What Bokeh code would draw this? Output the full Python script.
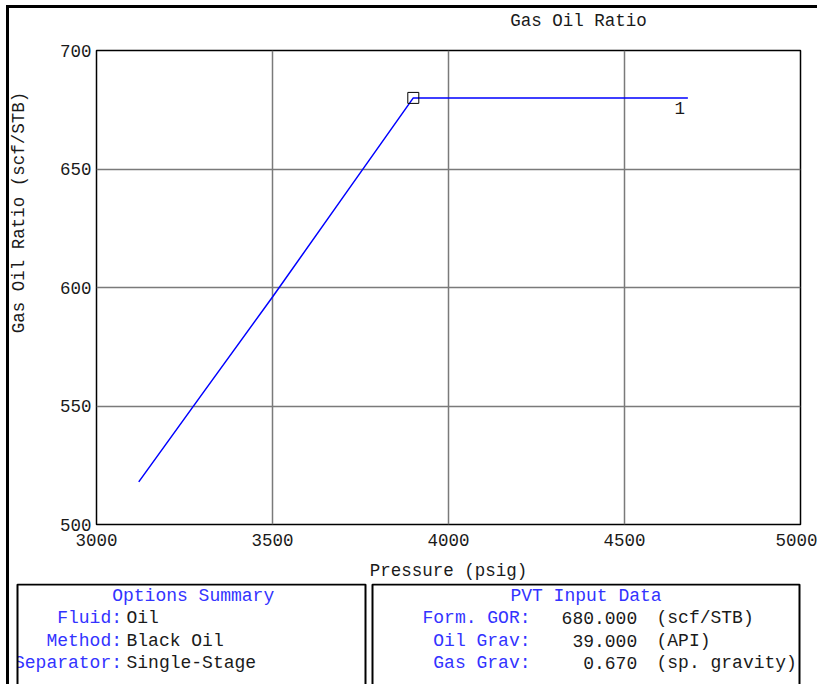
import numpy as np
from bokeh.plotting import figure
from bokeh.models import Range1d, Label, Div
from bokeh.layouts import column, row
from bokeh.embed import file_html
from bokeh.resources import INLINE
from bokeh.core.properties import value

# ---- chart data ----
pressure = [3120, 3300, 3500, 3700, 3900, 4680]
gor = [518, 555, 596, 638, 680, 680]
bubble_p = [3900]
bubble_gor = [680]
series_name = "1"
x_ticks = [3000, 3500, 4000, 4500, 5000]
y_ticks = [500, 550, 600, 650, 700]
chart_title = "Gas Oil Ratio"
x_label = "Pressure (psig)"
y_label = "Gas Oil Ratio (scf/STB)"

# ---- summary tables ----
options_title = "Options Summary"
options_keys = ["Fluid:", "Method:", "Separator:"]
options_vals = ["Oil", "Black Oil", "Single-Stage"]
pvt_title = "PVT Input Data"
pvt_keys = ["Form. GOR:", "Oil Grav:", "Gas Grav:"]
pvt_vals = ["680.000", "39.000", "0.670"]
pvt_units = ["(scf/STB)", "(API)", "(sp. gravity)"]

FONT = "Liberation Mono"
FS = "17.5px"
TFS = "18px"
BLUE = "#3333ff"
TXT = "#1a1a1a"


def no_align(fig):
    if "frame_align" in fig.properties():
        fig.frame_align = False


def blank_fig(w, h, y_down=False):
    f = figure(width=w, height=h, x_range=Range1d(0, w),
               y_range=Range1d(h, 0) if y_down else Range1d(0, h),
               x_axis_type=None, y_axis_type=None,
               output_backend="svg", toolbar_location=None, min_border=0)
    no_align(f)
    f.grid.visible = False
    f.outline_line_color = None
    return f


# ---- title strip ----
tf = blank_fig(808, 22)
tf.text(x=[569], y=[10], text=[chart_title], text_align="center",
        text_baseline="middle", text_font=value(FONT), text_font_size=FS,
        text_color=TXT)

# ---- y-axis label strip ----
yl = blank_fig(30, 553)
yl.text(x=[9], y=[371], text=[y_label], angle=np.pi / 2,
        text_align="center", text_baseline="middle", text_font=value(FONT),
        text_font_size=FS, text_color=TXT)

# ---- main chart ----
p = figure(width=778, height=553,
           x_range=Range1d(3000, 5000), y_range=Range1d(500, 700),
           output_backend="svg", toolbar_location=None,
           min_border_left=57, min_border_right=17,
           min_border_top=20, min_border_bottom=59)
no_align(p)

for ax in (p.xaxis, p.yaxis):
    ax.major_tick_line_color = None
    ax.minor_tick_line_color = None
    ax.major_tick_out = 0
    ax.major_tick_in = 0
    ax.axis_line_color = None
    ax.major_label_text_font = FONT
    ax.major_label_text_font_size = FS
    ax.major_label_text_color = TXT
p.xaxis.ticker = x_ticks
p.yaxis.ticker = y_ticks
p.xaxis.major_label_standoff = 9
p.yaxis.major_label_standoff = 5
p.xaxis.axis_label = x_label
p.xaxis.axis_label_text_font = FONT
p.xaxis.axis_label_text_font_size = FS
p.xaxis.axis_label_text_font_style = "normal"
p.xaxis.axis_label_text_color = TXT
p.xaxis.axis_label_standoff = 12

p.xgrid.ticker = x_ticks
p.ygrid.ticker = y_ticks
p.grid.grid_line_color = "#7a7a7a"
p.grid.grid_line_width = 1.5
p.outline_line_color = "black"
p.outline_line_width = 1.5

p.line(pressure, gor, line_color="#0000ff", line_width=1.5)
p.scatter(bubble_p, bubble_gor, marker="square", size=11,
          fill_color=None, line_color="black", line_width=1)

p.add_layout(Label(x=pressure[-1], y=gor[-1], text=series_name,
                   x_offset=-8, y_offset=-10, text_align="center",
                   text_baseline="middle", text_font=FONT,
                   text_font_size=FS, text_color=TXT))

# ---- summary panel ----
q = blank_fig(808, 101, y_down=True)

row_y = [34.5, 57.7, 79.3]
q.text(x=[183.7, 576.5], y=[12.7, 12.7], text=[options_title, pvt_title],
       text_align="center", text_baseline="middle",
       text_font=value(FONT), text_font_size=TFS, text_color=BLUE)
q.text(x=[112.5] * 3, y=row_y, text=options_keys, text_align="right",
       text_baseline="middle", text_font=value(FONT), text_font_size=TFS,
       text_color=BLUE)
q.text(x=[117] * 3, y=row_y, text=options_vals, text_align="left",
       text_baseline="middle", text_font=value(FONT), text_font_size=TFS,
       text_color=TXT)
q.text(x=[521] * 3, y=row_y, text=pvt_keys, text_align="right",
       text_baseline="middle", text_font=value(FONT), text_font_size=TFS,
       text_color=BLUE)
q.text(x=[627.7] * 3, y=row_y, text=pvt_vals, text_align="right",
       text_baseline="middle", text_font=value(FONT), text_font_size=TFS,
       text_color=TXT)
q.text(x=[647] * 3, y=row_y, text=pvt_units, text_align="left",
       text_baseline="middle", text_font=value(FONT), text_font_size=TFS,
       text_color=TXT)
# clip text overflowing the left box edge
q.quad(left=[-5], right=[8], top=[-5], bottom=[140],
       fill_color="white", line_color=None)
q.quad(left=[8, 363], right=[356, 790], top=[1, 1], bottom=[140, 140],
       fill_color=None, line_color="black", line_width=2)

# outer frame lines (left and top) with small white margins
left_space = Div(text="", width=6, height=684, margin=0)
top_space = Div(text="", width=811, height=5, margin=0)
top_bar = Div(text="", width=811, height=3, margin=0,
              styles={"background-color": "black"})
left_bar = Div(text="", width=3, height=676, margin=0,
               styles={"background-color": "black"})

layout = row(left_space,
             column(top_space, top_bar,
                    row(left_bar, column(tf, row(yl, p), q))))

open("out.html", "w").write(file_html(layout, INLINE))
